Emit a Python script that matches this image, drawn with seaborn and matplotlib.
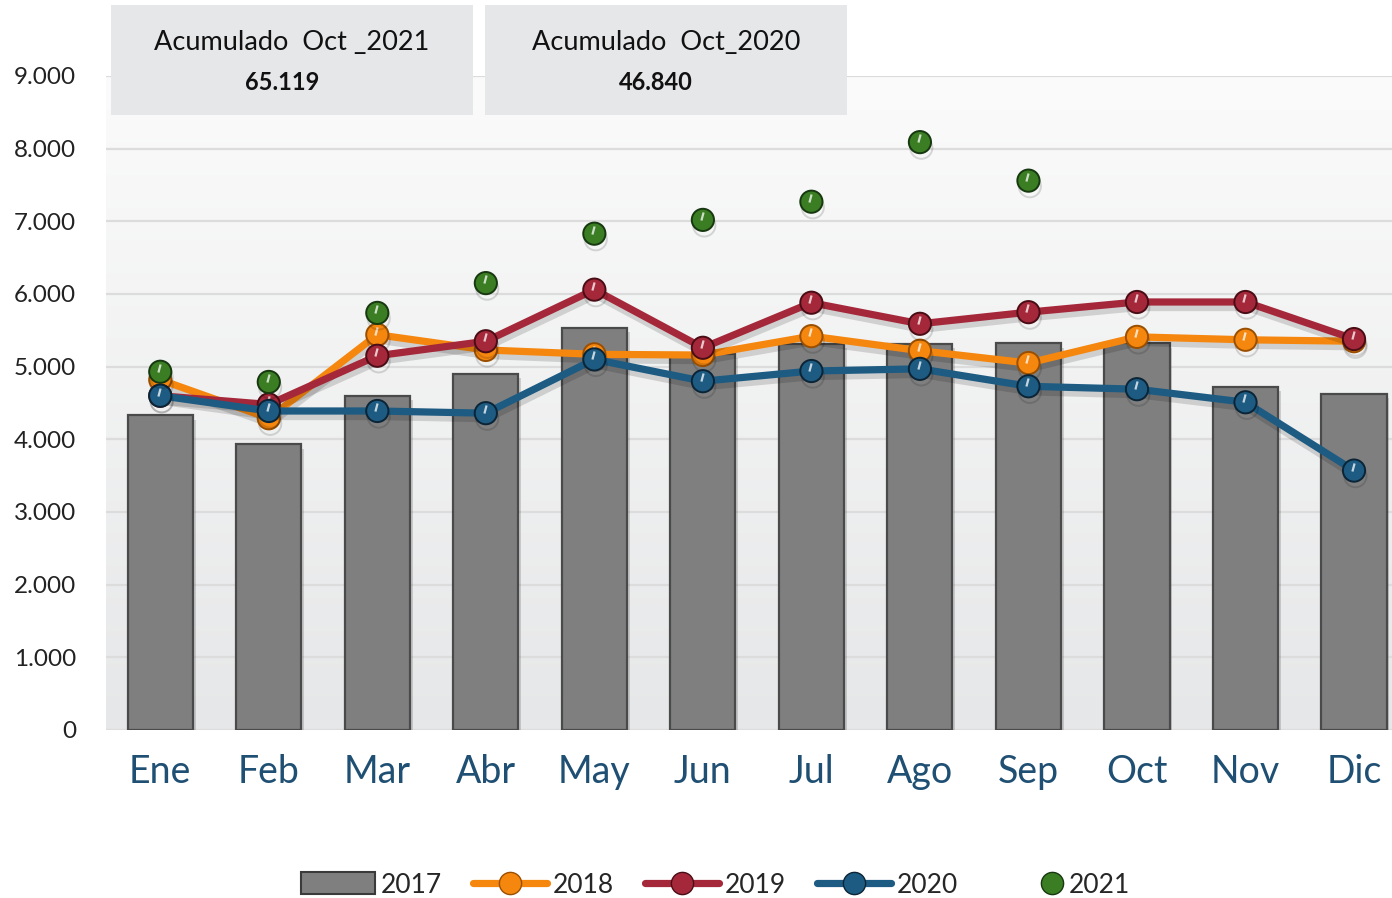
import numpy as np
import pandas as pd
import matplotlib
matplotlib.use("Agg")
import matplotlib.pyplot as plt
import matplotlib.patheffects as pe
import matplotlib.transforms as mtransforms
from matplotlib.patches import Rectangle, Patch
from matplotlib.lines import Line2D
from matplotlib.legend_handler import HandlerBase
import seaborn as sns

# Monthly values per year
meses = ["Ene", "Feb", "Mar", "Abr", "May", "Jun", "Jul", "Ago", "Sep", "Oct", "Nov", "Dic"]
v2017 = [4330, 3930, 4600, 4900, 5530, 5180, 5310, 5310, 5320, 5320, 4720, 4620]
v2018 = [4820, 4290, 5440, 5230, 5170, 5160, 5420, 5220, 5050, 5410, 5370, 5350]
v2019 = [4600, 4480, 5150, 5350, 6060, 5260, 5880, 5590, 5750, 5890, 5890, 5380]
v2020 = [4600, 4390, 4390, 4360, 5100, 4800, 4940, 4970, 4730, 4690, 4510, 3570]
v2021 = [4930, 4790, 5740, 6150, 6830, 7020, 7270, 8090, 7560, np.nan, np.nan, np.nan]

acum_titulos = ["Acumulado  Oct _2021", "Acumulado  Oct_2020"]
acum_valores = ["65.119", "46.840"]

yticks = [0, 1000, 2000, 3000, 4000, 5000, 6000, 7000, 8000, 9000]
ytick_labels = ["0", "1.000", "2.000", "3.000", "4.000", "5.000", "6.000", "7.000", "8.000", "9.000"]

series = [
    ("2018", v2018, "#f5870f", "#9a4f00", "-"),
    ("2019", v2019, "#a5283a", "#4a0d16", "-"),
    ("2020", v2020, "#1d5b82", "#0b2436", "-"),
    ("2021", v2021, "#3a7d22", "#173810", "none"),
]


class HandlerMarkerRight(HandlerBase):
    """Legend handler drawing a single marker at the right end of the handle box."""

    def create_artists(self, legend, orig_handle, xdescent, ydescent,
                       width, height, fontsize, trans):
        x = width - xdescent - 0.42 * fontsize
        y = (height - ydescent) / 2
        m = Line2D([x], [y])
        self.update_prop(m, orig_handle, legend)
        m.set_linestyle("none")
        m.set_transform(trans)
        return [m]


sns.set_theme(style="white")
plt.rcParams["font.family"] = ["Lato", "DejaVu Sans"]

W, H = 1392, 898
fig = plt.figure(figsize=(W / 100, H / 100), dpi=100)
fig.patch.set_facecolor("white")

left, right, bottom, top = 106, 1392, 730, 76
ax = fig.add_axes([left / W, (H - bottom) / H, (right - left) / W, (bottom - top) / H])

# Soft vertical gradient behind the plot
grad = np.linspace(0, 1, 256).reshape(-1, 1)
cmap = matplotlib.colors.LinearSegmentedColormap.from_list("bg", ["#e6e7e8", "#fbfbfb"])
ax.imshow(grad, extent=[0, 1, 0, 1], transform=ax.transAxes, cmap=cmap,
          origin="lower", aspect="auto", zorder=0)

# 2017 bars
sns.barplot(x=meses, y=v2017, order=meses, color="#7f7f7f", width=0.6,
            edgecolor="#4a4a4a", linewidth=1.6, saturation=1, ax=ax, zorder=2)
for bar in ax.patches:
    bar.set_path_effects([pe.SimplePatchShadow(offset=(2, -3), alpha=0.18), pe.Normal()])

# 2018-2021 lines with markers, each year stacked above the previous one
glint_tr = mtransforms.offset_copy(ax.transData, fig=fig, x=-1, y=4, units="dots")
for i, (nombre, vals, col, edge, ls) in enumerate(series):
    z = 3 + 0.2 * i
    n0 = len(ax.lines)
    sns.pointplot(x=meses, y=vals, order=meses, color=col, errorbar=None,
                  markers="o", linestyles=ls, ax=ax,
                  markersize=16, markeredgecolor=edge, markeredgewidth=1.4,
                  linewidth=5.2, zorder=z)
    new_lines = list(ax.lines[n0:])
    for ln in new_lines:
        ln.set_zorder(z)
        ln.set_path_effects([pe.SimpleLineShadow(offset=(1, -4), alpha=0.14, shadow_color="black"),
                             pe.Normal()])
        # small specular glint on each marker
        ax.plot(ln.get_xdata(), ln.get_ydata(), linestyle="none", marker=(2, 0, -15),
                markersize=6, markeredgewidth=1.6, markeredgecolor="white",
                alpha=0.75, transform=glint_tr, zorder=z + 0.1)

ax.set_xlim(-0.5, 11.35)
ax.set_ylim(0, 9000)
ax.set_yticks(yticks)
ax.set_yticklabels(ytick_labels)
ax.yaxis.grid(True, color="#dcdcdc", linewidth=1.6, zorder=1)
ax.set_axisbelow(True)
ax.set_xlabel("")
ax.set_ylabel("")
for s in ax.spines.values():
    s.set_visible(False)
ax.tick_params(axis="x", length=0, pad=17, labelsize=27, labelcolor="#1f4f73")
ax.tick_params(axis="y", length=0, pad=21.5, labelsize=17.5, labelcolor="#222222")

# Accumulated totals boxes
for i, (tit, val) in enumerate(zip(acum_titulos, acum_valores)):
    x0 = 111 + i * 374
    fig.patches.append(Rectangle((x0 / W, (H - 115) / H), 362 / W, 110 / H,
                                 transform=fig.transFigure, facecolor="#e6e7e9",
                                 edgecolor="none", zorder=5))
    fig.text((x0 + 181) / W, (H - 42) / H, tit, ha="center", va="center",
             fontsize=19.5, color="#111111", zorder=6)
    fig.text((x0 + 171) / W, (H - 83) / H, val, ha="center", va="center",
             fontsize=17, fontweight="bold", color="#111111", zorder=6)

# Legend
handles = [Patch(facecolor="#7f7f7f", edgecolor="#3a3a3a", linewidth=1.5)]
labels = ["2017"]
hmap = {}
for nombre, vals, col, edge, ls in series:
    h = Line2D([0], [0], color=col, linestyle=ls, linewidth=5.2, marker="o",
               markersize=16, markerfacecolor=col, markeredgecolor=edge)
    if ls == "none":
        hmap[h] = HandlerMarkerRight()
    handles.append(h)
    labels.append(nombre)
fig.legend(handles, labels, handler_map=hmap, loc="center",
           bbox_to_anchor=(0.514, (H - 885) / H),
           ncol=5, frameon=False, fontsize=19, handlelength=2.8, handleheight=0.9,
           handletextpad=0.2, columnspacing=1.2)

fig.savefig("out.png", dpi=100, facecolor="white")
